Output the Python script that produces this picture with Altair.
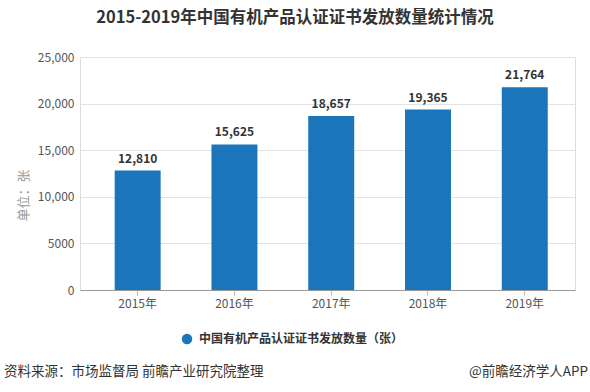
import altair as alt
import pandas as pd

years = ["2015年", "2016年", "2017年", "2018年", "2019年"]
values = [12810, 15625, 18657, 19365, 21764]
title_text = "2015-2019年中国有机产品认证证书发放数量统计情况"
legend_text = "中国有机产品认证证书发放数量（张）"
source_text = "资料来源：市场监督局 前瞻产业研究院整理"
credit_text = "@前瞻经济学人APP"
y_title = "单位：张"

FONT = "Noto Sans CJK SC"
BAR = "#1b75bb"

df = pd.DataFrame({"year": years, "value": values})
one = pd.DataFrame({"k": [0]})

W, H = 495, 233

base = alt.Chart(df)
bars = base.mark_bar(color=BAR).encode(
    x=alt.X("year:N", sort=years, title=None,
            scale=alt.Scale(paddingInner=0.525, paddingOuter=0.32, align=0.56),
            axis=alt.Axis(labelAngle=0, labelFont=FONT, labelFontSize=12,
                          labelColor="#555", domainColor="#999", tickColor="#bbb",
                          tickSize=5, labelPadding=3)),
    y=alt.Y("value:Q", title=y_title,
            scale=alt.Scale(domain=[0, 25000], nice=False),
            axis=alt.Axis(values=[0, 5000, 10000, 15000, 20000, 25000],
                          labelExpr="datum.value >= 10000 ? format(datum.value, ',') : format(datum.value, 'd')",
                          domain=False, ticks=False, gridColor="#e3e3e3",
                          labelFont=FONT, labelFontSize=12, labelColor="#555",
                          labelPadding=6,
                          titleFont=FONT, titleFontSize=13, titleColor="#999",
                          titleFontWeight="normal", titleX=-50, titleY=138)),
)
labels = base.mark_text(dy=-12, font=FONT, fontSize=12, fontWeight="bold",
                        color="#333").encode(
    x=alt.X("year:N", sort=years),
    y="value:Q",
    text=alt.Text("value:Q", format=","),
)

title = alt.Chart(one).mark_text(font=FONT, fontSize=16.5, fontWeight="bold",
                                 color="#333", align="center").encode(
    x=alt.value(295 - 80), y=alt.value(18 - 57), text=alt.value(title_text))
legend_dot = alt.Chart(one).mark_point(filled=True, size=110, color=BAR, opacity=1).encode(
    x=alt.value(187 - 80), y=alt.value(339 - 57))
legend_lbl = alt.Chart(one).mark_text(font=FONT, fontSize=12, fontWeight="bold",
                                      color="#333", align="left").encode(
    x=alt.value(199 - 80), y=alt.value(339 - 57), text=alt.value(legend_text))
source = alt.Chart(one).mark_text(font=FONT, fontSize=13.5, color="#333",
                                  align="left").encode(
    x=alt.value(4 - 80), y=alt.value(372 - 57), text=alt.value(source_text))
credit = alt.Chart(one).mark_text(font=FONT, fontSize=13.5, color="#333",
                                  align="right").encode(
    x=alt.value(588 - 80), y=alt.value(372 - 57), text=alt.value(credit_text))

chart = alt.layer(bars, labels, title, legend_dot, legend_lbl, source, credit).properties(
    width=W, height=H,
    autosize=alt.AutoSizeParams(type="none"),
    padding={"left": 80, "top": 57, "right": 15, "bottom": 102},
).configure_view(stroke=None).configure(background="white")

chart.save("out.html", embed_options={"renderer": "svg", "actions": False})
